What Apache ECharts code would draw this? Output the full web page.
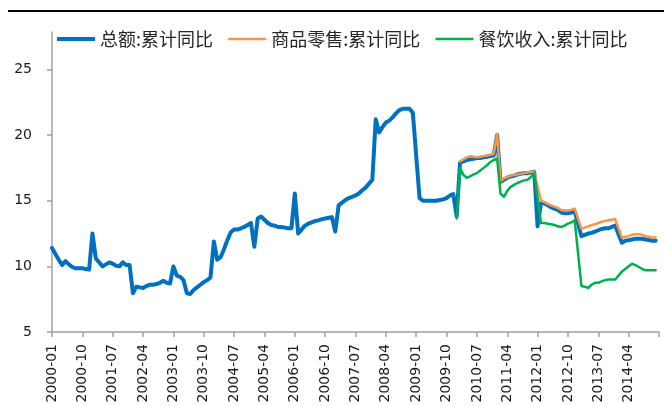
<!DOCTYPE html>
<html>
<head>
<meta charset="utf-8">
<script src="https://cdn.jsdelivr.net/npm/echarts@6/dist/echarts.min.js"></script>
<style>html,body{margin:0;padding:0;background:#fff}#c{width:664px;height:406px}</style>
</head>
<body>
<div id="c"></div>
<script>
// Categories: monthly 2000-01 .. 2015-01
var months = [];
for (var y = 2000; y <= 2015; y++) {
  for (var m = 1; m <= 12; m++) {
    if (y === 2015 && m > 1) break;
    months.push(y + '-' + (m < 10 ? '0' + m : '' + m));
  }
}
var seriesNames = ['总额:累计同比', '商品零售:累计同比', '餐饮收入:累计同比'];
var yTicks = [5, 10, 15, 20, 25];

// 总额:累计同比 (2000-01 .. 2015-01)
var total = [
  11.4, 10.95, 10.5, 10.1, 10.4, 10.15, 9.95, 9.85, 9.85, 9.85, 9.8, 9.75,
  12.5, 10.6, 10.3, 10.0, 10.15, 10.3, 10.2, 10.05, 10.0, 10.3, 10.1, 10.1,
  7.95, 8.45, 8.4, 8.35, 8.5, 8.6, 8.6, 8.65, 8.75, 8.9, 8.75, 8.7,
  10.0, 9.3, 9.2, 8.95, 7.95, 7.9, 8.2, 8.4, 8.6, 8.8, 8.95, 9.15,
  11.9, 10.5, 10.7, 11.3, 12.0, 12.6, 12.8, 12.8, 12.9, 13.0, 13.15, 13.3,
  11.5, 13.65, 13.8, 13.55, 13.3, 13.15, 13.1, 13.0, 13.0, 12.95, 12.9, 12.9,
  15.55, 12.5, 12.8, 13.1, 13.25, 13.35, 13.45, 13.5, 13.6, 13.65, 13.7, 13.75,
  12.65, 14.65, 14.85, 15.05, 15.2, 15.3, 15.4, 15.55, 15.8, 16.0, 16.3, 16.6,
  21.2, 20.2, 20.6, 20.95, 21.1, 21.35, 21.65, 21.9, 22.0, 22.0, 22.0, 21.7,
  null, 15.2, 15.0, 15.0, 15.0, 15.0, 15.0, 15.05, 15.1, 15.2, 15.4, 15.5,
  13.8, 17.9, 18.0, 18.1, 18.15, 18.2, 18.25, 18.25, 18.3, 18.35, 18.4, 18.45,
  20.0, 16.45, 16.6, 16.75, 16.85, 16.9, 17.0, 17.05, 17.1, 17.1, 17.15, 17.2,
  13.05, 14.8, 14.8, 14.65, 14.5, 14.4, 14.3, 14.1, 14.05, 14.05, 14.1, 14.2,
  null, 12.3, 12.4, 12.5, 12.55, 12.65, 12.75, 12.85, 12.9, 12.9, 13.0, 13.1,
  null, 11.8, 11.95, 12.0, 12.05, 12.1, 12.1, 12.1, 12.05, 12.0, 11.95, 11.95,
  null
];

// 商品零售:累计同比 (values from 2010-01 on)
var goodsFrom2010 = [
  null, 18.0, 18.15, 18.3, 18.4, 18.35, 18.3, 18.35, 18.4, 18.45, 18.5, 18.55,
  20.1, 16.5, 16.7, 16.8, 16.9, 16.95, 17.0, 17.05, 17.1, 17.15, 17.2, 17.2,
  null, 15.0, 14.9, 14.75, 14.65, 14.55, 14.45, 14.3, 14.25, 14.25, 14.3, 14.4,
  null, 12.85, 12.95, 13.05, 13.15, 13.2, 13.3, 13.4, 13.45, 13.5, 13.55, 13.6,
  null, 12.2, 12.25, 12.3, 12.4, 12.45, 12.45, 12.4, 12.3, 12.25, 12.2, 12.2,
  null
];

// 餐饮收入:累计同比 (values from 2010-01 on)
var cateringFrom2010 = [
  13.65, 17.5, 16.95, 16.75, 16.85, 17.0, 17.1, 17.3, 17.5, 17.7, 17.95, 18.1,
  18.2, 15.55, 15.3, 15.75, 16.05, 16.2, 16.35, 16.45, 16.55, 16.6, 16.8, 17.1,
  null, 13.3, 13.3, 13.25, 13.2, 13.15, 13.05, 13.0, 13.1, 13.25, 13.35, 13.5,
  null, 8.5, 8.45, 8.35, 8.6, 8.75, 8.75, 8.85, 8.95, 9.0, 9.0, 9.0,
  null, 9.6, 9.8, 10.0, 10.2, 10.1, 9.95, 9.8, 9.7, 9.7, 9.7, 9.7,
  null
];

var startIdx = months.indexOf('2010-01');
function pad(arr) {
  var out = [];
  for (var i = 0; i < startIdx; i++) out.push(null);
  return out.concat(arr);
}
var goods = pad(goodsFrom2010);
var catering = pad(cateringFrom2010);

var colors = ['#0070C0', '#F79646', '#00B050'];
var widths = [4, 2.5, 2.5];

var chart = echarts.init(document.getElementById('c'), null, {renderer: 'canvas'});
var lastIdx = months.length - 1;
chart.setOption({
  animation: false,
  backgroundColor: '#fff',
  graphic: [{
    type: 'line', silent: true,
    shape: {x1: 8, y1: 11, x2: 664, y2: 11},
    style: {stroke: '#000', lineWidth: 2}
  }],
  legend: {
    left: 50, top: 24,
    itemWidth: 38, itemHeight: 20, itemGap: 14,
    textStyle: {fontFamily: '"Noto Sans CJK SC"', fontSize: 18, color: '#262626', lineHeight: 20},
    data: seriesNames.map(function (n, k) {
      return {name: n, itemStyle: {opacity: 0}, lineStyle: {width: widths[k], color: colors[k], cap: 'butt'}};
    })
  },
  grid: {left: 52, right: 5, top: 32, bottom: 74, containLabel: false},
  xAxis: {
    type: 'category',
    data: months,
    boundaryGap: false,
    axisLine: {lineStyle: {color: '#A0A0A0', width: 1.5}},
    axisTick: {
      length: 5,
      interval: function (i) { return i % 9 === 0; },
      lineStyle: {color: '#A0A0A0', width: 1.5}
    },
    axisLabel: {
      rotate: 90, margin: 12,
      interval: function (i) { return i % 9 === 0 && i < lastIdx; },
      fontFamily: 'DejaVu Sans', fontSize: 14, color: '#1a1a1a'
    },
    splitLine: {show: false}
  },
  yAxis: {
    type: 'value',
    min: 5, max: 27.85, interval: 5,
    axisLine: {show: true, lineStyle: {color: '#A0A0A0', width: 1.5}},
    axisTick: {show: true, length: 5, customValues: yTicks, lineStyle: {color: '#A0A0A0', width: 1.5}},
    axisLabel: {
      customValues: yTicks, margin: 20,
      fontFamily: 'DejaVu Sans', fontSize: 14, color: '#1a1a1a'
    },
    splitLine: {show: false}
  },
  series: [
    {name: seriesNames[0], type: 'line', data: total, connectNulls: true, symbol: 'none', z: 2,
     lineStyle: {color: colors[0], width: widths[0], cap: 'round', join: 'round'}, itemStyle: {color: colors[0]}},
    {name: seriesNames[1], type: 'line', data: goods, connectNulls: true, symbol: 'none', z: 3,
     lineStyle: {color: colors[1], width: widths[1], cap: 'round', join: 'round'}, itemStyle: {color: colors[1]}},
    {name: seriesNames[2], type: 'line', data: catering, connectNulls: true, symbol: 'none', z: 4,
     lineStyle: {color: colors[2], width: widths[2], cap: 'round', join: 'round'}, itemStyle: {color: colors[2]}}
  ]
});
</script>
</body>
</html>
